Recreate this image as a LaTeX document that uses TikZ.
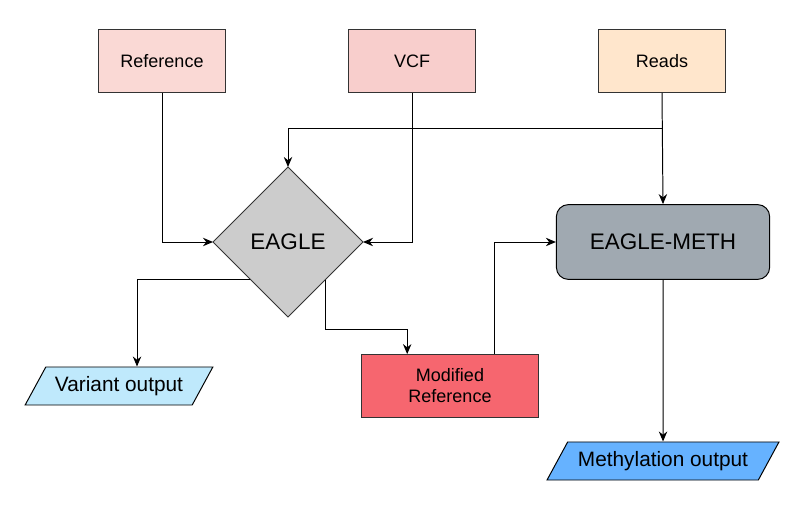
\documentclass[tikz,border=0pt]{standalone}
\usepackage{fontspec}
\setmainfont{Liberation Sans}
\usepackage{xcolor}
\usetikzlibrary{shapes.geometric,arrows.meta}

\definecolor{boxline}{HTML}{333333}
\definecolor{refcol}{HTML}{FAD9D5}
\definecolor{vcfcol}{HTML}{F8CECC}
\definecolor{readcol}{HTML}{FFE6CC}
\definecolor{eaglecol}{HTML}{CCCCCC}
\definecolor{methcol}{HTML}{A0A9B1}
\definecolor{modcol}{HTML}{F6666F}
\definecolor{varcol}{HTML}{BFE9FC}
\definecolor{methoutcol}{HTML}{66B2FF}

\tikzset{
  inbox/.style={draw=boxline, line width=0.7pt, minimum width=3.15cm, minimum height=1.57cm, inner sep=1pt,
    font=\fontsize{12.8}{15}\selectfont},
  iobox/.style={trapezium, trapezium left angle=56, trapezium right angle=124, trapezium stretches=true,
    draw=black, line width=0.7pt, minimum height=0.95cm, font=\fontsize{14.8}{17}\selectfont},
  arr/.style={-{Stealth[length=2.5mm,width=2.1mm]}, line width=0.7pt},
}

\begin{document}
\begin{tikzpicture}[x=0.025cm, y=-0.025cm]  % units are pixels of the sketch
  \useasboundingbox (0,0) rectangle (802,510);

  % inputs
  \node[inbox, fill=refcol]  (ref)   at (162,61) {Reference};
  \node[inbox, fill=vcfcol]  (vcf)   at (412,61) {VCF};
  \node[inbox, fill=readcol] (reads) at (662,61) {Reads};

  % tools
  \node[diamond, draw=boxline, fill=eaglecol, line width=0.7pt, minimum width=3.75cm, minimum height=3.75cm,
        inner sep=0pt, outer sep=0pt, font=\fontsize{16}{18}\selectfont] (eagle) at (288,242) {EAGLE};
  \node[draw=black, fill=methcol, rounded corners=0.3cm, line width=0.7pt, minimum width=5.33cm,
        minimum height=1.87cm, font=\fontsize{16}{18}\selectfont] (meth) at (663,242) {EAGLE-METH};
  \node[inbox, fill=modcol, minimum width=4.4cm, align=center] (modref) at (450,386) {Modified\\Reference};

  % outputs
  \node[iobox, fill=varcol, minimum width=4.7cm] (varout) at (119,386) {Variant output};
  \node[iobox, fill=methoutcol, minimum width=5.8cm] (methout) at (663,461) {Methylation output};

  % connectors
  \coordinate (split) at (662,128);
  \draw[arr] (ref.south) |- (eagle.west);
  \draw[arr] (vcf.south) |- (eagle.east);
  \draw[arr] (reads.south) -- (meth.north);
  \draw[arr] (split) -| (eagle.north);
  \draw[arr] (eagle.south west) -| ([xshift=0.45cm]varout.north);
  \draw[arr] (eagle.south east) -- ++(0,50) -| ([xshift=-1.07cm]modref.north);
  \draw[arr] ([xshift=1.1cm]modref.north) |- (meth.west);
  \draw[arr] (meth.south) -- (methout.north);
\end{tikzpicture}
\end{document}
